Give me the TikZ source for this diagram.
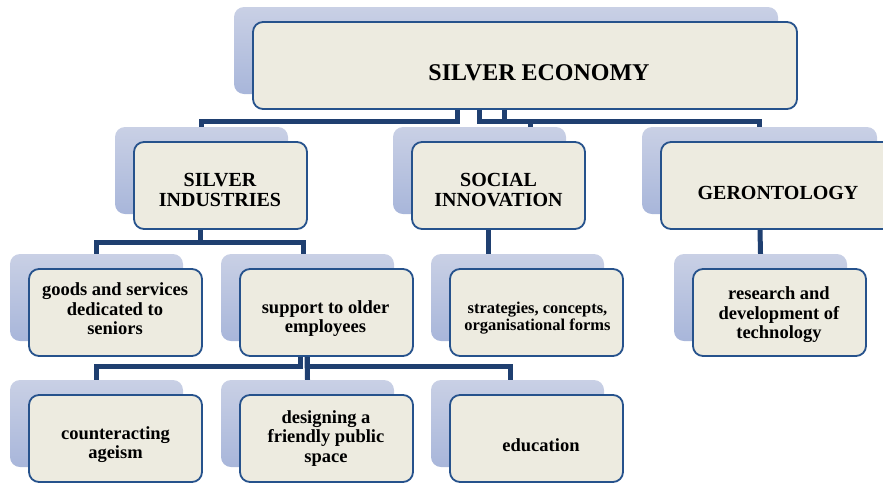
\documentclass[tikz,border=0pt]{standalone}
\usepackage{fontspec}
\setmainfont{Liberation Serif}
\definecolor{connBlue}{RGB}{31,63,112}
\definecolor{borderBlue}{RGB}{38,82,140}
\definecolor{frontFill}{RGB}{237,235,224}
\definecolor{shadeTop}{RGB}{201,208,229}
\definecolor{shadeBot}{RGB}{168,182,218}
\begin{document}
\begin{tikzpicture}[x=1pt,y=-1pt,
  back/.style={rectangle, rounded corners=10pt, draw=none, inner sep=0pt,
    top color=shadeTop, bottom color=shadeBot},
  front/.style={rectangle, rounded corners=10pt, fill=frontFill,
    draw=borderBlue, line width=1.8pt, inner sep=0pt},
  std/.style={minimum width=173pt, minimum height=87pt},
  conn/.style={draw=connBlue, line width=5pt, line join=miter},
  lbl/.style={align=center, inner sep=0pt, text=black},
  big/.style={font=\bfseries\fontsize{24}{26}\selectfont},
  mid/.style={font=\bfseries\fontsize{20}{20}\selectfont},
  sml/.style={font=\bfseries\fontsize{18.5}{19.5}\selectfont},
  tiny/.style={font=\bfseries\fontsize{16.5}{17}\selectfont},
]
\useasboundingbox (0,0) rectangle (883,483);

% back plates
\node[back, minimum width=544pt, minimum height=87pt] (se-s) at (506,50.5) {};
\node[back, std] (si-s)  at (201.5,170.5) {};
\node[back, std] (soc-s) at (479.5,170.5) {};
\node[back, minimum width=235pt, minimum height=87pt] (ger-s) at (759.5,170.5) {};
\node[back, std] (gds-s) at (96.5,297.5) {};
\node[back, std] (sup-s) at (307.5,297.5) {};
\node[back, std] (str-s) at (517.5,297.5) {};
\node[back, std] (res-s) at (760.5,297.5) {};
\node[back, std] (cnt-s) at (96.5,423.5) {};
\node[back, std] (des-s) at (307.5,423.5) {};
\node[back, std] (edu-s) at (517.5,423.5) {};

% front boxes
\node[front, minimum width=544pt, minimum height=87pt] (se) at (525,65.5) {};
\node[front, std] (si)  at (220.5,185.5) {};
\node[front, std] (soc) at (498.5,185.5) {};
\node[front, minimum width=235pt, minimum height=87pt] (ger) at (778.5,185.5) {};
\node[front, std] (gds) at (115.5,312.5) {};
\node[front, std] (sup) at (326.5,312.5) {};
\node[front, std] (str) at (536.5,312.5) {};
\node[front, std] (res) at (779.5,312.5) {};
\node[front, std] (cnt) at (115.5,438.5) {};
\node[front, std] (des) at (326.5,438.5) {};
\node[front, std] (edu) at (536.5,438.5) {};

% connectors
\draw[conn] ([xshift=-68pt]se.south) -- ++(0,12) -| (si-s.north);
\draw[conn] ([xshift=-46pt]se.south) -- ++(0,12) -| ([xshift=50.5pt]soc-s.north);
\draw[conn] ([xshift=-21pt]se.south) -- ++(0,12) -| (ger-s.north);
\draw[conn] ([xshift=-20.5pt]si.south) -- ++(0,13) -| (gds-s.north);
\draw[conn] ([xshift=-20.5pt]si.south) -- ++(0,13) -| ([xshift=-4pt]sup-s.north);
\draw[conn] ([xshift=-10.5pt]soc.south) -- ([xshift=-29.5pt]str-s.north);
\draw[conn] ([xshift=-18.5pt]ger.south) -- (res-s.north);
\draw[conn] ([xshift=-26.5pt]sup.south) -- ++(0,10) -| (cnt-s.north);
\draw[conn] ([xshift=-19.5pt]sup.south) -- (des-s.north);
\draw[conn] ([xshift=-19.5pt]sup.south) -- ++(0,10) -| ([xshift=-7.5pt]edu-s.north);

% labels
\node[lbl, big] (se-t)  at (539,73) {SILVER ECONOMY};
\node[lbl, mid] (si-t)  at (220,189.5) {SILVER\\INDUSTRIES};
\node[lbl, mid] (soc-t) at (498.5,190) {SOCIAL\\INNOVATION};
\node[lbl, mid] (ger-t) at (778,192.5) {GERONTOLOGY};
\node[lbl, sml] (gds-t) at (115,309) {goods and services\\dedicated to\\seniors};
\node[lbl, sml] (sup-t) at (325.5,318.5) {support to older\\employees};
\node[lbl, tiny] (str-t) at (537.5,318) {strategies, concepts,\\organisational forms};
\node[lbl, sml] (res-t) at (779,315) {research and\\development of\\technology};
\node[lbl, sml] (cnt-t) at (115.5,444.5) {counteracting\\ageism};
\node[lbl, sml] (des-t) at (326,438.5) {designing a\\friendly public\\space};
\node[lbl, sml] (edu-t) at (541,445.5) {education};
\end{tikzpicture}
\end{document}
